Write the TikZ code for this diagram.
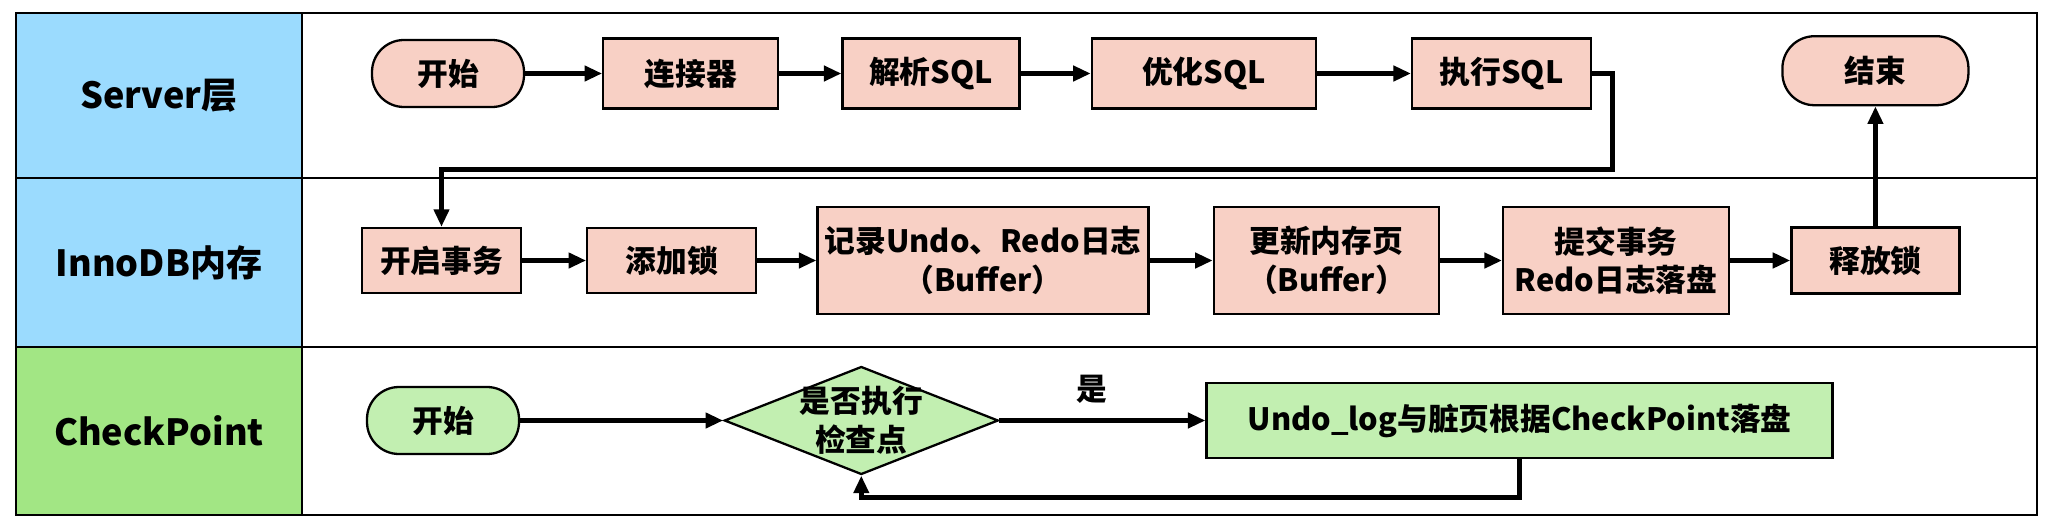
\documentclass[tikz,border=0pt]{standalone}
\usepackage{fontspec}
\setmainfont{Noto Sans CJK SC}
\usepackage{xcolor}
\usetikzlibrary{shapes.geometric, arrows.meta, positioning}
\definecolor{laneblue}{HTML}{9BDBFE}
\definecolor{lanegreen}{HTML}{A2E684}
\definecolor{boxpink}{HTML}{F8D0C5}
\definecolor{boxgreen}{HTML}{C2EFB1}

\begin{document}
\begin{tikzpicture}[>={Triangle[length=10pt,width=8.5pt]},node distance=1.2cm,
  font=\bfseries\fontsize{17.5}{22}\selectfont,
  frame/.style={line width=1.6pt},
  lane/.style={font=\bfseries\fontsize{20.5}{24}\selectfont},
  block/.style={draw,line width=1.3pt,rectangle,fill=boxpink,align=center,inner sep=2pt,minimum height=1.4cm},
  term/.style={block,rounded corners=0.64cm,minimum width=3.04cm,minimum height=1.34cm},
  decision/.style={draw,line width=1.3pt,diamond,fill=boxgreen,minimum width=5.48cm,minimum height=2.16cm,inner sep=0pt},
  flow/.style={->,line width=2.8pt}]
  \useasboundingbox (0,0) rectangle (41.06,-10.54);
  \fill[laneblue] (0.32,-0.26) rectangle (6.04,-6.94);
  \fill[lanegreen] (0.32,-6.94) rectangle (6.04,-10.30);
  \draw[frame] (0.32,-0.26) rectangle (40.74,-10.30);
  \draw[frame] (6.04,-0.26) -- (6.04,-10.30);
  \draw[frame] (0.32,-3.56) -- (40.74,-3.56);
  \draw[frame] (0.32,-6.94) -- (40.74,-6.94);
  \node[lane] (server) at (3.18,-1.91) {Server层};
  \node[lane] (innodb) at (3.18,-5.25) {InnoDB内存};
  \node[lane] (ckpt) at (3.18,-8.62) {CheckPoint};

  \node[term] (start) at (8.96,-1.47) {开始};
  \node[block,minimum width=3.5cm,right=1.54cm of start] (conn) {连接器};
  \node[block,minimum width=3.54cm,right=1.24cm of conn] (parse) {解析SQL};
  \node[block,minimum width=4.48cm,right=1.4cm of parse] (opt) {优化SQL};
  \node[block,minimum width=3.58cm,right=1.88cm of opt] (exec) {执行SQL};

  \node[block,minimum width=3.18cm,minimum height=1.3cm] (tx) at (8.83,-5.21) {开启事务};
  \node[block,minimum width=3.38cm,minimum height=1.3cm,right=1.28cm of tx] (lock) {添加锁};
  \node[block,minimum width=6.62cm,minimum height=2.14cm,right=1.18cm of lock] (rec) {记录Undo、Redo日志\\（Buffer）};
  \node[block,minimum width=4.5cm,minimum height=2.14cm,right=1.26cm of rec] (upd) {更新内存页\\（Buffer）};
  \node[block,minimum width=4.52cm,minimum height=2.14cm,right=1.24cm of upd] (commit) {提交事务\\Redo日志落盘};
  \node[block,minimum width=3.36cm,minimum height=1.32cm,right=1.2cm of commit] (release) {释放锁};
  \node[term,minimum width=3.72cm,minimum height=1.38cm,above=2.4cm of release] (end) {结束};

  \node[term,fill=boxgreen] (start2) at (8.86,-8.41) {开始};
  \node[decision,right=4.06cm of start2,label={[align=center]center:是否执行\\检查点}] (chk) {};
  \node[block,fill=boxgreen,minimum width=12.52cm,minimum height=1.5cm,right=4.12cm of chk] (flush) {Undo\_log与脏页根据CheckPoint落盘};

  \draw[flow] (start) -- (conn);
  \draw[flow] (conn) -- (parse);
  \draw[flow] (parse) -- (opt);
  \draw[flow] (opt) -- (exec);
  \draw[flow] (exec.east) -- ++(0.4,0) -- ++(0,-1.92) -| (tx.north);
  \draw[flow] (tx) -- (lock);
  \draw[flow] (lock) -- (rec);
  \draw[flow] (rec) -- (upd);
  \draw[flow] (upd) -- (commit);
  \draw[flow] (commit) -- (release);
  \draw[flow] (release) -- (end);
  \draw[flow] (start2) -- (chk);
  \draw[flow] (chk) -- node[above=5pt,pos=0.45] {是} (flush);
  \draw[flow] (flush.south) -- ++(0,-0.76) -| (chk.south);
\end{tikzpicture}
\end{document}
